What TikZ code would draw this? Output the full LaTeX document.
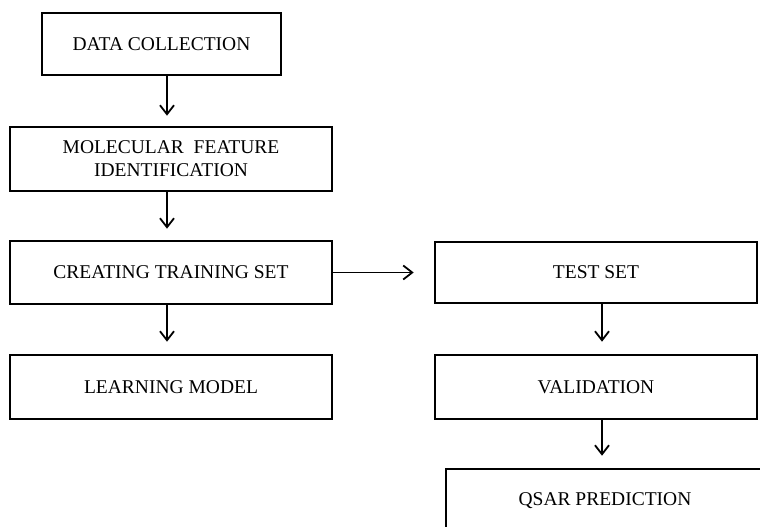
\documentclass[tikz,border=0pt]{standalone}
\usepackage{fontspec}
\setmainfont{Liberation Serif}
\usetikzlibrary{arrows.meta}

\tikzset{
  stagebox/.style={draw=black, line width=2.6pt, fill=white, inner sep=0pt,
    align=center, font=\fontsize{19.5}{23}\selectfont},
  flowarrow/.style={line width=1.8pt, -{Straight Barb[length=9pt,width=14pt,line width=1.8pt]}},
}

\begin{document}
\begin{tikzpicture}[x=1pt, y=-1pt]
  \useasboundingbox (0,0) rectangle (760,527);
  \clip (0,0) rectangle (760,527);
  \fill[white] (0,0) rectangle (760,527);

  % left column
  \node[stagebox, minimum width=239pt, minimum height=62pt] (dc) at (161.5,44) {DATA COLLECTION};
  \node[stagebox, minimum width=322pt, minimum height=64pt] (mf) at (171,159) {MOLECULAR~~FEATURE\\IDENTIFICATION};
  \node[stagebox, minimum width=322pt, minimum height=63pt] (ct) at (171,272.5) {CREATING TRAINING SET};
  \node[stagebox, minimum width=322pt, minimum height=64pt] (lm) at (171,387) {LEARNING MODEL};

  % right column
  \node[stagebox, minimum width=322pt, minimum height=61pt] (ts) at (596,272.5) {TEST SET};
  \node[stagebox, minimum width=322pt, minimum height=64pt] (va) at (596,387) {VALIDATION};
  \node[stagebox, minimum width=318pt, minimum height=64pt] (qs) at (605,501) {QSAR PREDICTION};

  % x positions of the vertical connectors
  \coordinate (lx) at (167,0);
  \coordinate (rx) at (602,0);

  \draw[flowarrow, shorten >=10pt] (dc.south -| lx) -- (mf.north -| lx);
  \draw[flowarrow, shorten >=11pt] (mf.south -| lx) -- (ct.north -| lx);
  \draw[flowarrow, shorten >=12pt] (ct.south -| lx) -- (lm.north -| lx);
  \draw[flowarrow, shorten >=20pt] (ct.east) -- (ct.east -| ts.west);
  \draw[flowarrow, shorten >=12pt] (ts.south -| rx) -- (va.north -| rx);
  \draw[flowarrow, shorten >=12pt] (va.south -| rx) -- (qs.north -| rx);
\end{tikzpicture}
\end{document}
